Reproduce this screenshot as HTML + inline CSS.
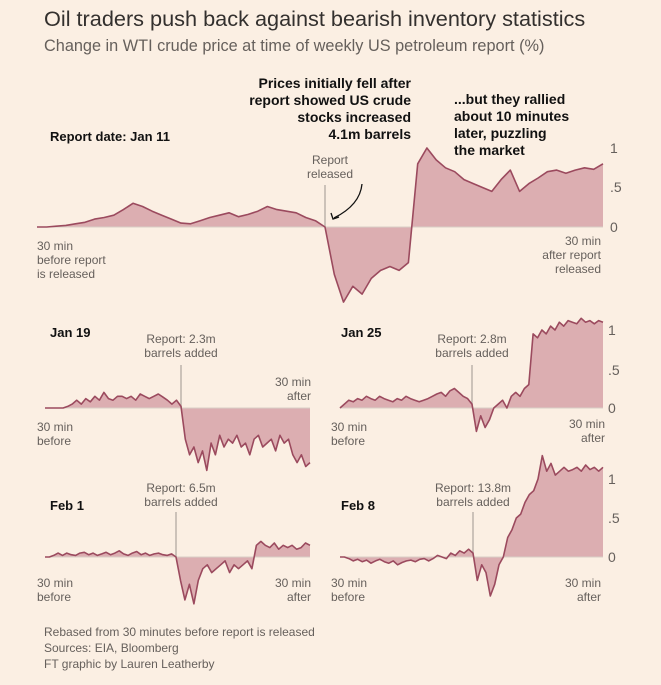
<!DOCTYPE html>
<html><head><meta charset="utf-8">
<style>
body{margin:0;background:#fbefe3;font-family:"Liberation Sans",sans-serif;}
#wrap{position:relative;width:661px;height:685px;overflow:hidden;background:#fbefe3}
.t{position:absolute;white-space:nowrap}
</style></head><body>
<div id="wrap">
<div class="t" style="left:44px;top:6px;font-size:21.7px;color:#33302e">Oil traders push back against bearish inventory statistics</div>
<div class="t" style="left:44px;top:37px;font-size:16.3px;color:#66605c">Change in WTI crude price at time of weekly US petroleum report (%)</div>
<svg id="svg" width="661" height="685" style="position:absolute;left:0;top:0"></svg>
<div class="t" style="left:44px;top:624px;font-size:12px;color:#66605c;line-height:16px">Rebased from 30 minutes before report is released<br>Sources: EIA, Bloomberg<br>FT graphic by Lauren Leatherby</div>
</div>
<script>
const mainValues=[0,0,0.01,0.02,0.04,0.06,0.1,0.12,0.15,0.22,0.3,0.26,0.2,0.15,0.1,0.05,0.04,0.08,0.12,0.15,0.18,0.13,0.16,0.2,0.26,0.22,0.2,0.18,0.12,0.08,0.0,
-0.6,-0.95,-0.75,-0.85,-0.65,-0.55,-0.5,-0.55,-0.45,0.8,1.0,0.85,0.75,0.7,0.6,0.55,0.5,0.45,0.6,0.72,0.45,0.55,0.62,0.7,0.72,0.68,0.72,0.75,0.73,0.8];
const jan19Values=[0,0,0,0,0,0.02,0.05,0.1,0.05,0.12,0.08,0.15,0.1,0.2,0.12,0.1,0.15,0.15,0.12,0.15,0.1,0.18,0.15,0.12,0.15,0.18,0.14,0.1,0.05,0.1,0.02,
-0.4,-0.6,-0.5,-0.7,-0.55,-0.8,-0.45,-0.6,-0.35,-0.5,-0.4,-0.45,-0.35,-0.5,-0.45,-0.6,-0.4,-0.35,-0.5,-0.45,-0.4,-0.55,-0.35,-0.45,-0.4,-0.6,-0.7,-0.6,-0.75,-0.7];
const jan25Values=[0,0.05,0.1,0.08,0.12,0.1,0.15,0.12,0.1,0.15,0.12,0.1,0.08,0.12,0.1,0.15,0.12,0.1,0.08,0.1,0.12,0.15,0.18,0.2,0.15,0.22,0.25,0.2,0.15,0.12,0.05,
-0.3,-0.1,-0.25,-0.15,0.0,0.05,0.1,0.0,0.15,0.2,0.15,0.25,0.3,0.95,0.9,1.0,0.95,1.05,1.0,1.1,1.05,1.12,1.1,1.08,1.15,1.1,1.12,1.08,1.12,1.1];
const feb1Values=[0,0,0.02,0.05,0.02,0.05,0.03,0.02,0.05,0.06,0.03,0.05,0.02,0.04,0.06,0.03,0.05,0.08,0.04,0.02,0.05,0.07,0.03,0.05,0.02,0.04,0.05,0.03,0.02,0.04,0.0,
-0.3,-0.55,-0.35,-0.6,-0.3,-0.15,-0.1,-0.2,-0.15,-0.1,-0.05,-0.2,-0.1,-0.15,-0.1,-0.05,-0.15,0.15,0.2,0.15,0.12,0.18,0.1,0.15,0.12,0.15,0.1,0.12,0.18,0.15];
const feb8Values=[0,0,-0.02,-0.05,-0.03,-0.06,-0.04,-0.08,-0.05,-0.03,-0.06,-0.08,-0.05,-0.1,-0.07,-0.05,-0.04,-0.06,-0.03,-0.02,-0.05,-0.02,0.02,0.0,-0.02,0.05,0.02,0.08,0.05,0.1,0.05,
-0.3,-0.1,-0.2,-0.5,-0.35,-0.1,0.0,0.25,0.35,0.5,0.55,0.7,0.8,0.85,1.0,1.3,1.1,1.2,1.05,1.1,1.15,1.1,1.12,1.15,1.1,1.18,1.12,1.15,1.1,1.15];
const NS="http://www.w3.org/2000/svg";
const svg=document.getElementById('svg');
function mk(tag,attrs){const e=document.createElementNS(NS,tag);for(const k in attrs)e.setAttribute(k,attrs[k]);svg.appendChild(e);return e;}
function txt(x,y,s,anchor,size,color,weight,name){const e=mk('text',{x:x,y:y,'text-anchor':anchor,'font-size':size,fill:color,'font-weight':weight,'font-family':'Liberation Sans, sans-serif'});e.textContent=s;


return e;}
function panel(vals,x0,x1,xr,y0,unit,name){
  const n=vals.length;
  const xs=i=> i<=30 ? x0+(i/30)*(xr-x0) : xr+((i-30)/(n-1-30))*(x1-xr);
  const ys=v=>y0-v*unit;
  let d='M'+xs(0)+','+y0;
  vals.forEach((v,i)=>{d+=' L'+xs(i).toFixed(1)+','+ys(v).toFixed(1);});
  d+=' L'+xs(n-1)+','+y0+' Z';
  const a=mk('path',{d:d,fill:'#dcaeb1'});
  
  
  const b=mk('line',{x1:x0,x2:x1,y1:y0,y2:y0,stroke:'#d8cfc6','stroke-width':1});
  
  
  let p='';
  vals.forEach((v,i)=>{p+=(i?' L':'M')+xs(i).toFixed(1)+','+ys(v).toFixed(1);});
  const l=mk('path',{d:p,fill:'none',stroke:'#9b4a5e','stroke-width':1.6,'stroke-linejoin':'round'});
  
  
}
function marker(x,yt,yb,name){const e=mk('line',{x1:x,x2:x,y1:yt,y2:yb,stroke:'#bcb3ab','stroke-width':1.5});

}
const G='#66605c';
marker(325,185,227,'main-report-marker');
panel(mainValues,37,603,325,227,79,'main');
txt(330,164,'Report','middle',12,G,'normal','report-label');txt(330,178,'released','middle',12,G,'normal','report-label-2');
txt(37,250,'30 min','start',12,G,'normal','main-start-label');txt(37,264,'before report','start',12,G,'normal','main-start-label-2');txt(37,278,'is released','start',12,G,'normal','main-start-label-3');
txt(601,245,'30 min','end',12,G,'normal','main-end-label');txt(601,259,'after report','end',12,G,'normal','main-end-label-2');txt(601,273,'released','end',12,G,'normal','main-end-label-3');
txt(610,153,'1','start',14,G,'normal','y-tick-1');txt(610,192,'.5','start',14,G,'normal','y-tick-05');txt(610,232,'0','start',14,G,'normal','y-tick-0');
txt(50,141,'Report date: Jan 11','start',13,'#111','bold','main-date-label');
const ann=['Prices initially fell after','report showed US crude','stocks increased','4.1m barrels'];
ann.forEach((s,i)=>txt(411,88+i*17,s,'end',14,'#111','bold','annotation-fell'));
const ann2=['...but they rallied','about 10 minutes','later, puzzling','the market'];
ann2.forEach((s,i)=>txt(454,104+i*17,s,'start',14,'#111','bold','annotation-rallied'));
mk('path',{d:'M362,184 Q360,205 334,218',fill:'none',stroke:'#111','stroke-width':1.3});
mk('path',{d:'M331,213 L333,219 L339,217',fill:'none',stroke:'#111','stroke-width':1.3});
marker(181,365,408,'jan19-marker');
panel(jan19Values,45,310,181,408,78,'jan19');
marker(472,365,408,'jan25-marker');
panel(jan25Values,340,603,472,408,78,'jan25');
marker(176,512,557,'feb1-marker');
panel(feb1Values,45,310,176,557,78,'feb1');
marker(473,512,557,'feb8-marker');
panel(feb8Values,340,603,473,557,78,'feb8');
txt(50,337,'Jan 19','start',13,'#111','bold','jan19-label');
txt(341,337,'Jan 25','start',13,'#111','bold','jan25-label');
txt(50,510,'Feb 1','start',13,'#111','bold','feb1-label');
txt(341,510,'Feb 8','start',13,'#111','bold','feb8-label');
txt(181,343,'Report: 2.3m','middle',12,G,'normal','jan19-report');txt(181,357,'barrels added','middle',12,G,'normal','jan19-report-2');
txt(472,343,'Report: 2.8m','middle',12,G,'normal','jan25-report');txt(472,357,'barrels added','middle',12,G,'normal','jan25-report-2');
txt(181,492,'Report: 6.5m','middle',12,G,'normal','feb1-report');txt(181,506,'barrels added','middle',12,G,'normal','feb1-report-2');
txt(473,492,'Report: 13.8m','middle',12,G,'normal','feb8-report');txt(473,506,'barrels added','middle',12,G,'normal','feb8-report-2');
[[37,431,'start'],[331,431,'start'],[37,587,'start'],[331,587,'start']].forEach((p,i)=>{txt(p[0],p[1],'30 min',p[2],12,G,'normal','start-label-'+i);txt(p[0],p[1]+14,'before',p[2],12,G,'normal','start-label-b-'+i);});
txt(311,386,'30 min','end',12,G,'normal','jan19-end');txt(311,400,'after','end',12,G,'normal','jan19-end-2');
txt(605,428,'30 min','end',12,G,'normal','jan25-end');txt(605,442,'after','end',12,G,'normal','jan25-end-2');
txt(311,587,'30 min','end',12,G,'normal','feb1-end');txt(311,601,'after','end',12,G,'normal','feb1-end-2');
txt(601,587,'30 min','end',12,G,'normal','feb8-end');txt(601,601,'after','end',12,G,'normal','feb8-end-2');
txt(608,335,'1','start',14,G,'normal','jan25-y1');txt(608,375,'.5','start',14,G,'normal','jan25-y05');txt(608,413,'0','start',14,G,'normal','jan25-y0');
txt(608,484,'1','start',14,G,'normal','feb8-y1');txt(608,523,'.5','start',14,G,'normal','feb8-y05');txt(608,562,'0','start',14,G,'normal','feb8-y0');
</script>
</body></html>
